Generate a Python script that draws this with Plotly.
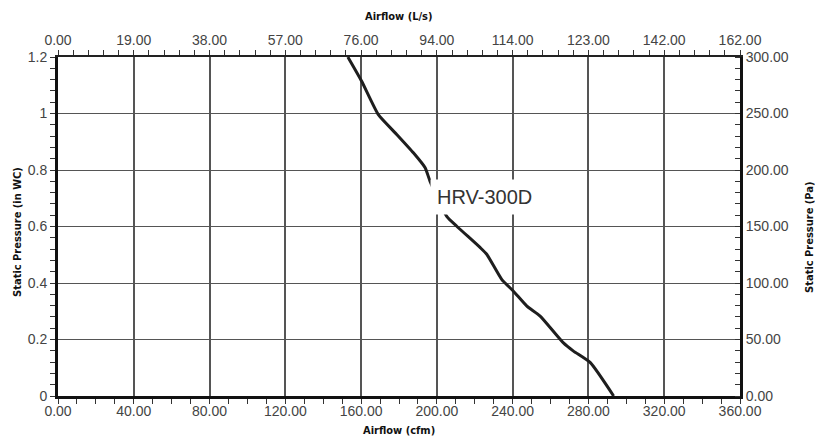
import plotly.graph_objects as go

# Data
cfm = [153, 160.3, 169.1, 178.8, 187.6, 193.8, 196.4, 205.2, 210.5, 222.9, 226.4,
       234.3, 240.4, 247.5, 254.5, 266.8, 272.1, 281, 293.3]
inwc = [1.2, 1.114, 0.996, 0.926, 0.861, 0.808, 0.760, 0.636, 0.601, 0.525, 0.501,
        0.412, 0.371, 0.318, 0.283, 0.188, 0.159, 0.118, 0.0]

cfm_ticks = [0, 40, 80, 120, 160, 200, 240, 280, 320, 360]
cfm_labels = ["0.00", "40.00", "80.00", "120.00", "160.00", "200.00", "240.00", "280.00", "320.00", "360.00"]
ls_labels = ["0.00", "19.00", "38.00", "57.00", "76.00", "94.00", "114.00", "123.00", "142.00", "162.00"]
wc_ticks = [0, 0.2, 0.4, 0.6, 0.8, 1.0, 1.2]
wc_labels = ["0", "0.2", "0.4", "0.6", "0.8", "1", "1.2"]
pa_ticks = [0, 50, 100, 150, 200, 250, 300]
pa_labels = ["0.00", "50.00", "100.00", "150.00", "200.00", "250.00", "300.00"]
series_name = "HRV-300D"

tick_font = dict(family="Liberation Sans", size=14, color="#444")
title_font = dict(family="DejaVu Sans Condensed", size=11, color="#111", weight="bold")

fig = go.Figure()
fig.add_trace(go.Scatter(x=cfm, y=inwc, mode="lines",
                         line=dict(color="#1e1e1e", width=3, shape="spline", smoothing=0.5),
                         showlegend=False, hoverinfo="skip"))
# invisible trace to activate secondary axes
fig.add_trace(go.Scatter(x=[0], y=[0], xaxis="x2", yaxis="y2", mode="markers",
                         marker=dict(opacity=0), showlegend=False, hoverinfo="skip"))

fig.update_layout(
    width=815, height=438,
    margin=dict(l=58, r=75, t=57, b=42),
    paper_bgcolor="white", plot_bgcolor="white",
    xaxis=dict(range=[0, 360], tickvals=cfm_ticks, ticktext=cfm_labels,
               showgrid=True, gridcolor="#555", gridwidth=1.5,
               showline=True, linecolor="#111", linewidth=3,
               ticks="", tickfont=tick_font, zeroline=False,
               minor=dict(dtick=10, tick0=0, ticks="outside", ticklen=5, tickcolor="#333",
                          showgrid=False)),
    yaxis=dict(range=[0, 1.2], tickvals=wc_ticks, ticktext=wc_labels,
               showgrid=True, gridcolor="#555", gridwidth=1,
               showline=True, linecolor="#111", linewidth=3,
               ticks="outside", ticklen=5, tickcolor="#333", tickfont=tick_font, zeroline=False,
               minor=dict(dtick=0.04, tick0=0, ticks="outside", ticklen=5, tickcolor="#333",
                          showgrid=False)),
    xaxis2=dict(range=[0, 360], overlaying="x", side="top", anchor="y",
                tickvals=cfm_ticks, ticktext=ls_labels, showgrid=False,
                showline=True, linecolor="#222", linewidth=1.5,
                ticks="outside", ticklen=5, tickcolor="#333", tickfont=tick_font, zeroline=False,
                minor=dict(dtick=8, tick0=0, ticks="outside", ticklen=5, tickcolor="#333",
                           showgrid=False)),
    yaxis2=dict(range=[0, 300], overlaying="y", side="right", anchor="x",
                tickvals=pa_ticks, ticktext=pa_labels, showgrid=False,
                showline=True, linecolor="#111", linewidth=3,
                ticks="", tickfont=tick_font, zeroline=False,
                minor=dict(dtick=10, tick0=0, ticks="inside", ticklen=5, tickcolor="#333",
                           showgrid=False)),
)

fig.add_annotation(x=224.9, y=0.703, xref="x", yref="y", text=series_name, showarrow=False,
                   font=dict(family="Liberation Sans", size=20, color="#333"),
                   bgcolor="white", borderpad=6)

common = dict(showarrow=False, font=title_font, xref="paper", yref="paper",
              xanchor="center", yanchor="middle")
fig.add_annotation(x=0.5, y=1.118, text="Airflow (L/s)", **common)
fig.add_annotation(x=0.5, y=-0.103, text="Airflow (cfm)", **common)
fig.add_annotation(x=-0.0587, y=0.484, text="Static Pressure (in WC)", textangle=-90, **common)
fig.add_annotation(x=1.101, y=0.469, text="Static Pressure (Pa)", textangle=-90, **common)

fig.write_html("out.html", config={"displayModeBar": False},
               post_script="document.body.style.margin='0';document.body.style.overflow='hidden';")
